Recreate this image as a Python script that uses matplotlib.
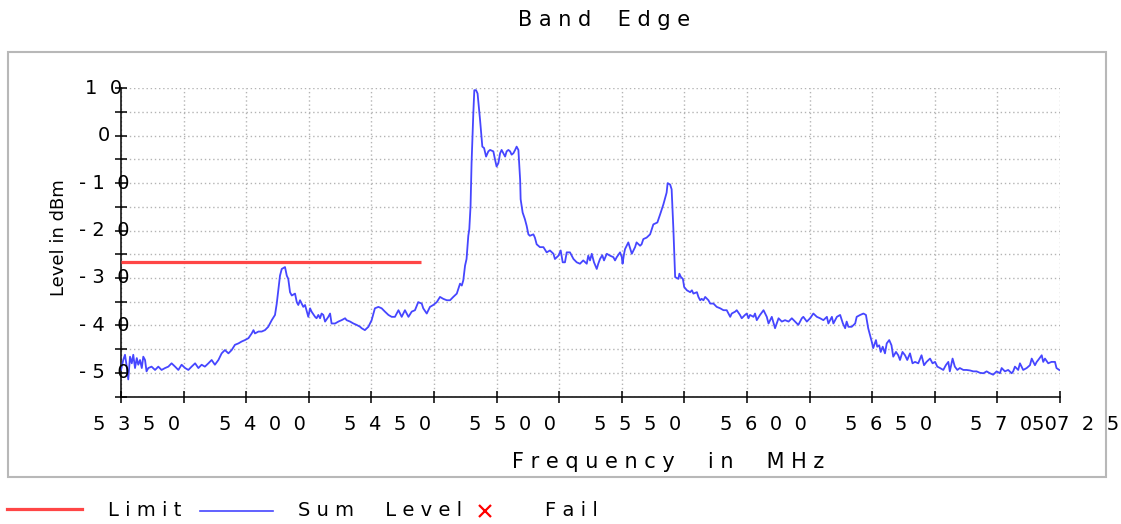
import matplotlib
matplotlib.use('Agg')
import matplotlib.pyplot as plt
from matplotlib.transforms import ScaledTranslation
from matplotlib.lines import Line2D
from matplotlib.patches import Rectangle

# band edge sweep (MHz, dBm)
freq = [5350.0, 5350.9, 5351.6, 5352.3, 5352.9, 5353.6, 5354.3, 5354.9, 5355.6, 5356.3,
        5356.9, 5357.6, 5358.3, 5358.9, 5359.6, 5360.2, 5360.9, 5362.2, 5363.6, 5364.9,
        5366.2, 5367.6, 5368.9, 5370.2, 5371.6, 5372.9, 5374.2, 5375.6, 5376.9, 5378.2,
        5379.6, 5380.9, 5382.2, 5383.5, 5384.9, 5386.2, 5387.5, 5388.9, 5390.2, 5391.5,
        5392.9, 5394.2, 5395.5, 5396.9, 5398.2, 5399.5, 5400.9, 5402.2, 5402.9, 5403.5,
        5404.9, 5406.2, 5407.5, 5408.8, 5410.2, 5411.5, 5412.2, 5412.8, 5413.5, 5414.2,
        5415.5, 5416.2, 5416.8, 5417.5, 5418.2, 5419.5, 5420.2, 5420.8, 5421.5, 5422.8,
        5423.5, 5424.8, 5425.5, 5426.1, 5427.5, 5428.1, 5428.8, 5429.5, 5430.1, 5430.8,
        5431.5, 5432.8, 5433.5, 5434.1, 5435.5, 5436.8, 5438.1, 5439.5, 5440.1, 5441.5,
        5442.8, 5444.1, 5445.5, 5446.1, 5447.4, 5448.8, 5450.1, 5451.4, 5452.8, 5454.1,
        5455.4, 5456.8, 5458.1, 5459.4, 5460.8, 5462.1, 5463.4, 5464.8, 5466.1, 5467.4,
        5468.7, 5470.1, 5470.7, 5472.1, 5473.4, 5474.7, 5476.1, 5477.4, 5478.7, 5480.1,
        5481.4, 5482.7, 5484.1, 5484.7, 5485.4, 5486.1, 5486.7, 5487.4, 5488.0, 5488.7,
        5489.1, 5489.6, 5490.0, 5490.7, 5491.1, 5491.8, 5492.4, 5493.4, 5494.3, 5495.0,
        5495.8, 5496.7, 5497.4, 5498.7, 5499.4, 5500.0, 5500.7, 5501.4, 5502.0, 5502.7,
        5503.4, 5504.0, 5504.7, 5505.4, 5506.0, 5506.7, 5507.4, 5508.0, 5508.7, 5509.4,
        5509.6, 5510.4, 5511.3, 5512.0, 5512.7, 5513.3, 5514.7, 5515.3, 5516.0, 5517.3,
        5518.7, 5520.0, 5521.3, 5522.7, 5523.3, 5524.7, 5525.6, 5526.4, 5527.3, 5528.0,
        5529.3, 5530.0, 5530.7, 5532.0, 5533.3, 5534.6, 5536.0, 5536.6, 5537.3, 5538.0,
        5538.9, 5540.0, 5540.6, 5541.3, 5542.2, 5542.9, 5544.0, 5545.3, 5546.6, 5547.3,
        5548.0, 5549.3, 5550.0, 5550.3, 5550.9, 5551.3, 5552.6, 5554.0, 5555.3, 5555.9,
        5557.3, 5557.9, 5558.6, 5559.9, 5561.3, 5562.6, 5564.2, 5565.3, 5566.6, 5567.9,
        5568.3, 5569.3, 5569.9, 5570.6, 5571.3, 5572.6, 5573.0, 5573.6, 5574.4, 5574.9,
        5576.0, 5577.3, 5578.0, 5578.6, 5580.0, 5580.6, 5581.3, 5581.9, 5582.6, 5583.3,
        5584.6, 5585.3, 5586.6, 5587.9, 5589.3, 5590.6, 5591.9, 5593.3, 5593.9, 5595.3,
        5595.9, 5597.2, 5597.9, 5599.2, 5599.9, 5600.6, 5601.2, 5602.6, 5603.2, 5603.9,
        5605.2, 5606.6, 5607.9, 5608.6, 5609.9, 5611.2, 5612.6, 5613.9, 5615.2, 5616.6,
        5617.9, 5619.2, 5620.5, 5621.9, 5622.5, 5623.9, 5625.2, 5626.5, 5627.9, 5629.2,
        5630.5, 5631.9, 5632.5, 5633.9, 5634.5, 5635.9, 5637.2, 5638.3, 5639.2, 5639.8,
        5640.5, 5641.8, 5643.2, 5643.8, 5645.2, 5646.5, 5647.5, 5648.4, 5649.8, 5650.4,
        5651.5, 5652.0, 5652.8, 5653.4, 5654.2, 5655.1, 5655.8, 5656.8, 5657.7, 5658.4,
        5659.5, 5660.4, 5661.1, 5662.1, 5663.1, 5664.0, 5665.1, 5666.1, 5667.1, 5668.4,
        5669.7, 5670.7, 5671.7, 5673.1, 5674.1, 5675.1, 5676.0, 5677.1, 5678.4, 5679.4,
        5680.4, 5681.0, 5682.1, 5683.0, 5684.0, 5685.0, 5686.4, 5687.7, 5689.0, 5690.4,
        5691.7, 5693.0, 5694.4, 5695.7, 5697.0, 5698.3, 5699.7, 5701.0, 5701.7, 5703.0,
        5704.3, 5705.7, 5706.3, 5707.0, 5708.3, 5709.0, 5710.3, 5711.7, 5713.0, 5713.7,
        5715.0, 5715.7, 5716.3, 5717.7, 5718.3, 5719.0, 5720.3, 5721.6, 5723.0, 5723.6,
        5724.7]
level = [-49.4, -47.3, -46.2, -48.7, -51.4, -46.6, -48.0, -46.2, -49.0, -46.9,
         -48.3, -47.3, -49.0, -46.6, -47.3, -49.7, -49.0, -48.7, -49.4, -48.7,
         -49.4, -49.0, -48.7, -48.0, -48.7, -49.4, -48.3, -49.0, -49.4, -48.7,
         -48.0, -49.0, -48.3, -48.7, -48.0, -47.3, -48.3, -47.3, -45.9, -45.2,
         -45.9, -45.2, -44.1, -43.8, -43.4, -43.1, -42.7, -41.7, -41.0, -41.7,
         -41.3, -41.3, -41.0, -40.3, -38.9, -37.8, -35.4, -32.6, -29.5, -28.1,
         -27.7, -29.5, -30.2, -33.0, -33.7, -33.3, -35.1, -35.7, -34.7, -36.1,
         -35.7, -38.2, -36.4, -37.1, -38.2, -38.5, -37.8, -38.5, -37.5, -37.8,
         -39.2, -38.2, -37.5, -39.6, -39.6, -39.2, -38.9, -38.5, -38.9, -39.2,
         -39.6, -39.9, -40.3, -40.6, -41.0, -40.3, -38.9, -36.4, -36.1, -36.4,
         -37.1, -37.8, -38.2, -38.2, -36.8, -38.2, -36.8, -38.2, -37.1, -36.8,
         -35.1, -35.4, -36.4, -37.5, -36.1, -35.7, -35.1, -34.0, -34.4, -34.7,
         -34.7, -34.0, -33.3, -32.3, -31.2, -31.6, -30.5, -27.4, -26.0, -21.1,
         -19.7, -14.8, -5.8, 4.7, 9.6, 9.6, 8.9, 3.3, -2.3, -2.6,
         -4.4, -3.3, -3.0, -3.3, -5.1, -6.5, -5.8, -3.7, -3.0, -3.7,
         -4.4, -3.3, -3.0, -3.3, -4.0, -3.7, -3.0, -2.3, -3.0, -9.3,
         -13.4, -16.2, -17.6, -19.0, -20.8, -21.1, -20.8, -21.5, -22.9, -23.5,
         -23.5, -24.6, -24.2, -24.9, -26.0, -25.3, -24.2, -26.7, -26.7, -24.6,
         -24.6, -25.3, -26.0, -26.7, -27.0, -26.3, -27.0, -25.3, -26.3, -24.9,
         -26.7, -28.1, -27.0, -26.0, -25.2, -26.3, -24.9, -25.3, -25.6, -26.3,
         -25.6, -24.6, -25.6, -27.0, -24.9, -23.9, -22.5, -24.9, -23.5, -22.5,
         -23.2, -22.9, -21.8, -21.5, -20.8, -18.7, -18.3, -16.6, -14.5, -12.0,
         -10.0, -10.3, -11.3, -19.7, -29.8, -30.2, -29.1, -29.8, -30.2, -31.9,
         -32.6, -33.0, -32.6, -33.3, -33.0, -34.0, -34.7, -34.4, -34.7, -34.0,
         -34.7, -35.4, -35.4, -36.1, -36.4, -36.8, -36.8, -38.2, -37.5, -37.1,
         -36.8, -37.8, -38.5, -37.8, -37.5, -38.5, -37.8, -38.2, -37.5, -38.9,
         -37.8, -36.8, -38.2, -39.6, -38.2, -40.6, -38.5, -39.2, -38.9, -39.2,
         -38.5, -39.2, -39.9, -38.5, -38.2, -39.2, -38.5, -37.5, -38.2, -38.5,
         -38.9, -38.2, -39.6, -38.2, -39.6, -38.2, -37.8, -39.6, -40.6, -39.2,
         -40.3, -40.3, -39.6, -38.2, -37.8, -37.5, -37.8, -40.6, -43.4, -44.8,
         -43.1, -44.5, -44.2, -45.6, -44.5, -45.9, -43.8, -43.1, -44.2, -46.6,
         -45.6, -46.3, -47.3, -45.6, -46.3, -47.3, -45.9, -48.0, -47.7, -48.0,
         -46.3, -48.4, -47.7, -47.0, -48.0, -47.7, -48.7, -49.0, -49.4, -48.4,
         -47.7, -49.7, -47.0, -48.7, -49.4, -49.0, -49.4, -49.4, -49.5, -49.7,
         -49.7, -50.0, -50.1, -49.7, -50.1, -50.4, -49.7, -50.1, -49.0, -49.7,
         -49.4, -50.1, -49.7, -48.7, -49.4, -48.0, -49.4, -49.0, -48.4, -47.0,
         -48.4, -47.7, -47.3, -46.3, -47.7, -47.0, -48.0, -47.7, -47.7, -49.0,
         -49.4]

# limit line only runs up to the band edge
limit_freq = [5350, 5470]
limit_level = [-26.7, -26.7]

x_ticks = list(range(5350, 5726, 25))
x_labels = [5350, 5400, 5450, 5500, 5550, 5600, 5650, 5700, 5725]
y_ticks = list(range(-55, 11, 5))
y_labels = [10, 0, -10, -20, -30, -40, -50]

title = 'Band Edge'
xlabel = 'Frequency in MHz'
ylabel = 'Level in dBm'
legend_names = ['Limit', 'Sum Level', 'Fail']

red = '#ff4646'
blue = '#4646ff'
W, H = 1121, 524

plt.rcParams['font.family'] = 'DejaVu Sans'


def spaced(s, gap=' ', word_gap='   '):
    # the original chart font draws letters far apart
    return word_gap.join(gap.join(w) for w in s.split(' '))


def fx(x):
    return x / W


def fy(y):
    return 1 - y / H


fig = plt.figure(figsize=(W / 100, H / 100), dpi=100)
ax = fig.add_axes([fx(121), fy(396.5), (1060 - 121) / W, (396.5 - 88.3) / H])

ax.plot(limit_freq, limit_level, color=red, lw=2.3, solid_capstyle='butt', zorder=3)
ax.plot(freq, level, color=blue, lw=1.3, zorder=4)

ax.set_xlim(5350, 5725)
ax.set_ylim(-55, 10)
ax.set_xticks(x_ticks)
ax.set_yticks(y_ticks)
ax.tick_params(direction='inout', length=9, width=1.1, color='black',
               labelbottom=False, labelleft=False)
ax.grid(True, color='#b4b4b4', linestyle=(0, (1, 2)), linewidth=1.0)
ax.set_axisbelow(True)
for side in ['top', 'right']:
    ax.spines[side].set_visible(False)
for side in ['left', 'bottom']:
    ax.spines[side].set_linewidth(1.1)
    ax.spines[side].set_color('black')

# tick labels, shifted like in the original
xt = ax.get_xaxis_transform() + ScaledTranslation(0.16, -0.285, fig.dpi_scale_trans)
for v in x_labels:
    ax.text(v, 0, spaced(str(v), '  '), transform=xt, ha='center', va='center',
            fontsize=14, clip_on=False, zorder=6)
yt = ax.get_yaxis_transform() + ScaledTranslation(-0.17, 0, fig.dpi_scale_trans)
for v in y_labels:
    s = spaced(str(abs(v)), '  ')
    if v < 0:
        s = '- ' + s
    ax.text(0, v, s, transform=yt, ha='center', va='center', fontsize=14,
            clip_on=False, zorder=6)

fig.text(fx(604), fy(20), spaced(title, word_gap='    '), ha='center', va='center',
         fontsize=15)
fig.text(fx(668), fy(462), spaced(xlabel, word_gap='     '), ha='center', va='center',
         fontsize=15)
fig.text(fx(59), fy(238), ylabel, rotation=90, ha='center', va='center', fontsize=13)

# grey panel frame
fig.add_artist(Rectangle((fx(8), fy(477)), (1106 - 8) / W, (477 - 52) / H,
                         transform=fig.transFigure, fill=False, ec='#b8b8b8', lw=1.5))

# legend at the bottom
fig.add_artist(Line2D([fx(7), fx(82)], [fy(509), fy(509)], transform=fig.transFigure,
                      color=red, lw=2.3))
fig.text(fx(108), fy(510), spaced(legend_names[0]), va='center', fontsize=14)
fig.add_artist(Line2D([fx(200), fx(273)], [fy(511), fy(511)], transform=fig.transFigure,
                      color=blue, lw=1.2))
fig.text(fx(298), fy(510), spaced(legend_names[1], word_gap='     '), va='center',
         fontsize=14)
fig.add_artist(Line2D([fx(485)], [fy(511)], transform=fig.transFigure, color='red',
                      marker='x', markersize=9, mew=1.6, lw=0))
fig.text(fx(545), fy(510), spaced(legend_names[2]), va='center', fontsize=14)

fig.savefig('out.png', dpi=100)
